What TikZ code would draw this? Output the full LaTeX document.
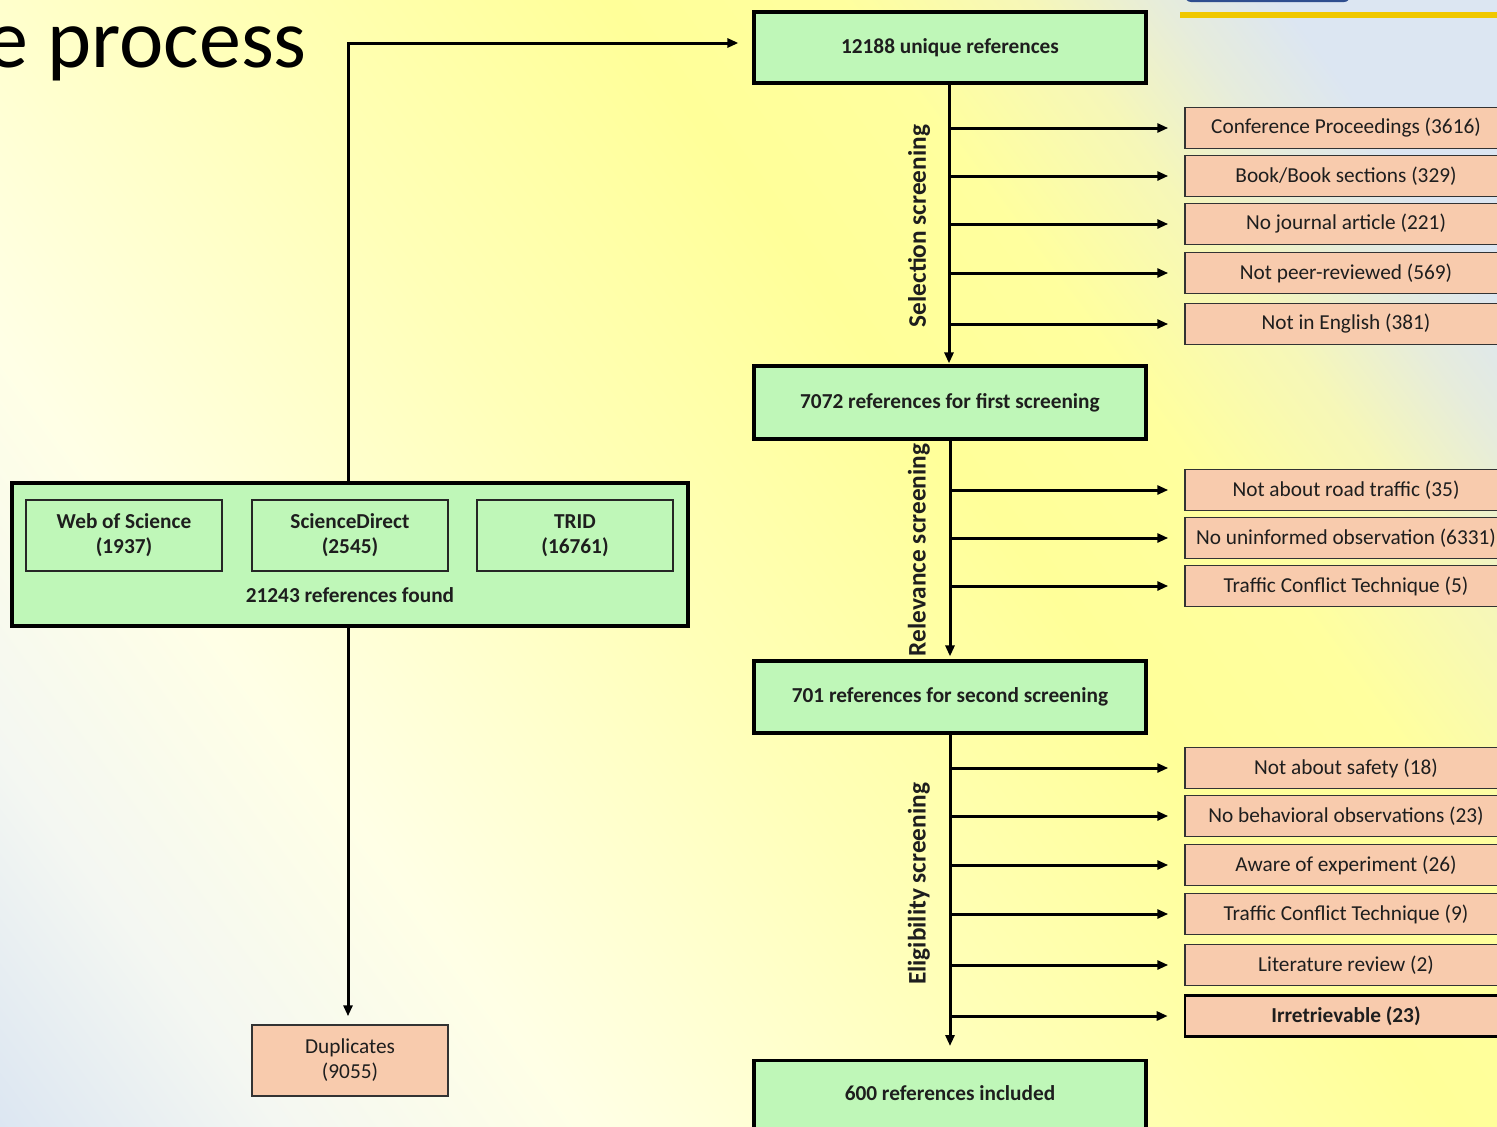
\documentclass[tikz,border=0pt]{standalone}
\usepackage{fontspec}
\setmainfont{Carlito}
\usetikzlibrary{arrows.meta}
\definecolor{gfill}{HTML}{BFF7B8}
\definecolor{ofill}{HTML}{F8CBAD}
\definecolor{tcol}{HTML}{1E1E1E}
\definecolor{barblue}{HTML}{2F4E8F}
\definecolor{gold}{HTML}{F0C800}
\definecolor{bga}{HTML}{DCE6F2}
\definecolor{bgb}{HTML}{F4F7F2}
\definecolor{bgc}{HTML}{FFFFE6}
\definecolor{bgd}{HTML}{FFFFB8}
\definecolor{bge}{HTML}{FFFF99}
\definecolor{bgf}{HTML}{FFFF9E}
\definecolor{bgg}{HTML}{F6F7B8}
\definecolor{bgh}{HTML}{E6ECDC}
\pgfdeclarehorizontalshading{bgshade}{100bp}{color(0bp)=(bga); color(25bp)=(bga); color(31bp)=(bgb); color(37.5bp)=(bgc); color(47.5bp)=(bgd); color(56bp)=(bge); color(61bp)=(bgf); color(65bp)=(bgg); color(67.9bp)=(bgh); color(70.4bp)=(bga); color(100bp)=(bga)}
\newcommand\fs{\fontsize{21.3}{25}\selectfont}
\begin{document}
\begin{tikzpicture}[x=1pt,y=-1pt,
  greenbox/.style={draw=black, line width=3.2pt, fill=gfill, minimum width=392pt, inner sep=0pt, font=\bfseries\fs, text=tcol},
  obox/.style={draw=black!80, line width=1.5pt, fill=ofill, minimum width=322pt, minimum height=41pt, inner sep=0pt, font=\fs, text=tcol},
  subbox/.style={draw=black!85, line width=1.5pt, fill=gfill, minimum width=196pt, minimum height=71pt, inner sep=0pt, align=center, font=\bfseries\fs, text=tcol},
  arr/.style={line width=3pt, -{Triangle[length=11pt,width=9pt]}},
  stage/.style={rotate=90, font=\bfseries\fontsize{25.3}{28}\selectfont, text=tcol, inner sep=0pt}
]
\useasboundingbox (0,0) rectangle (1497,1127);
% background
\begin{scope}
\clip (0,0) rectangle (1497,1127);
\begin{scope}[transform canvas={shift={(0pt,-1127pt)}, rotate=36.97}]
\shade[shading=bgshade] (0pt,-1600pt) rectangle (1874pt,1600pt);
\end{scope}
\fill[barblue, rounded corners=6pt] (1185,-30) rectangle (1350,2);
\fill[gold] (1180,12) rectangle (1497,18);
\end{scope}

% title
\node[anchor=base east, inner sep=0pt, font=\fontsize{84}{90}\selectfont, text=black] (title) at (307,67) {e process};

% left part
\node[draw=black, line width=3.2pt, fill=gfill, minimum width=676pt, minimum height=143pt, inner sep=0pt] (found) at (350,554.5) {};
\node[subbox] (wos) at (124,535.5) {Web of Science\\(1937)};
\node[subbox] (sd) at (350,535.5) {ScienceDirect\\(2545)};
\node[subbox] (trid) at (575,535.5) {TRID\\(16761)};
\node[font=\bfseries\fs, text=tcol, inner sep=0pt] (foundlbl) at (350,595) {21243 references found};
\node[obox, minimum width=196pt, minimum height=71pt, align=center] (dup) at (350,1060.5) {Duplicates\\(9055)};

% main column
\node[greenbox, minimum height=71pt] (unique) at (950,47.5) {12188 unique references};
\node[greenbox, minimum height=73pt] (first) at (950,402.5) {7072 references for first screening};
\node[greenbox, minimum height=72pt] (second) at (950,697) {701 references for second screening};
\node[greenbox, anchor=north, inner ysep=0pt, text height=40pt, text depth=40pt] (incl) at (950,1059) {600 references included};

% exclusion boxes
\node[obox] (conf) at (1346,128) {Conference Proceedings (3616)};
\node[obox] (book) at (1346,176) {Book/Book sections (329)};
\node[obox] (nojour) at (1346,224) {No journal article (221)};
\node[obox] (npr) at (1346,273) {Not peer-reviewed (569)};
\node[obox] (neng) at (1346,324) {Not in English (381)};
\node[obox] (road) at (1346,490) {Not about road traffic (35)};
\node[obox] (uninf) at (1346,538) {No uninformed observation (6331)};
\node[obox] (tcta) at (1346,586) {Traffic Conflict Technique (5)};
\node[obox] (safety) at (1346,768) {Not about safety (18)};
\node[obox] (behav) at (1346,816) {No behavioral observations (23)};
\node[obox] (aware) at (1346,865) {Aware of experiment (26)};
\node[obox] (tctb) at (1346,914) {Traffic Conflict Technique (9)};
\node[obox] (lit) at (1346,965) {Literature review (2)};
\node[obox, line width=2.6pt, draw=black, font=\bfseries\fs] (irr) at (1346,1016) {Irretrievable (23)};

% stage labels
\node[stage] (selLbl) at (919,226) {Selection screening};
\node[stage] (relLbl) at (919,550) {Relevance screening};
\node[stage] (eliLbl) at (919,884) {Eligibility screening};

% connectors
\draw[arr, shorten >=14pt] ([xshift=-2pt]found.north) |- ([yshift=4.5pt]unique.west);
\draw[arr, shorten >=8pt] ([xshift=-2pt]found.south) -- ([xshift=-2pt]dup.north);
\draw[arr, shorten >=1pt] ([xshift=-1pt]unique.south) -- ([xshift=-1pt]first.north);
\draw[arr, shorten >=3pt] (first.south) -- (second.north);
\draw[arr, shorten >=13pt] (second.south) -- (incl.north);
\foreach \b in {conf,book,nojour,npr,neng}
  \draw[arr, shorten >=16pt] ([xshift=-1pt]unique.south |- \b.west) -- (\b.west);
\foreach \b in {road,uninf,tcta}
  \draw[arr, shorten >=16pt] (first.south |- \b.west) -- (\b.west);
\foreach \b in {safety,behav,aware,tctb,lit,irr}
  \draw[arr, shorten >=16pt] (second.south |- \b.west) -- (\b.west);
\end{tikzpicture}
\end{document}
